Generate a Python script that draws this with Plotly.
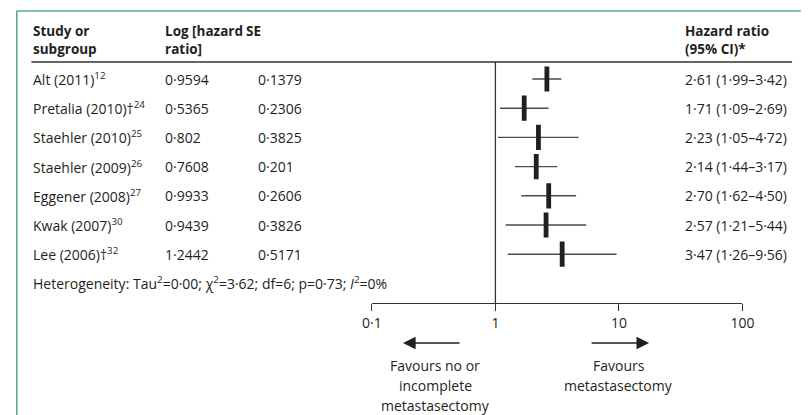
import plotly.graph_objects as go

W, H = 808, 415

studies = ["Alt (2011)", "Pretalia (2010)†", "Staehler (2010)", "Staehler (2009)",
           "Eggener (2008)", "Kwak (2007)", "Lee (2006)†"]
refs = ["12", "24", "25", "26", "27", "30", "32"]
log_hr = ["0·9594", "0·5365", "0·802", "0·7608", "0·9933", "0·9439", "1·2442"]
se = ["0·1379", "0·2306", "0·3825", "0·201", "0·2606", "0·3826", "0·5171"]
hr = [2.61, 1.71, 2.23, 2.14, 2.70, 2.57, 3.47]
lo = [1.99, 1.09, 1.05, 1.44, 1.62, 1.21, 1.26]
hi = [3.42, 2.69, 4.72, 3.17, 4.50, 5.44, 9.56]
tick_vals = [0.1, 1, 10, 100]
tick_text = ["0·1", "1", "10", "100"]
heterogeneity = "Heterogeneity: Tau<sup>2</sup>=0·00; χ<sup>2</sup>=3·62; df=6; p=0·73; <i>I</i><sup>2</sup>=0%"

FONT = "Open Sans"
FS = 14
FS_HEAD = 13.5
TXT = "#231f20"
GREEN = "#5aae84"
LINE = "#333333"

def px(x):
    return x / W

def py(y):
    return 1 - y / H

def fmt(v):
    return f"{v:.2f}".replace(".", "·")

rows = list(range(len(studies)))
ROW0, STEP = 79, 29.2
y_top = -ROW0 / STEP
y_bot = (H - ROW0) / STEP

fig = go.Figure()
fig.add_trace(go.Scatter(
    x=hr, y=rows, mode="markers",
    marker=dict(symbol="line-ns", size=18, line=dict(width=4.8, color=TXT)),
    error_x=dict(type="data", symmetric=False,
                 array=[h - m for h, m in zip(hi, hr)],
                 arrayminus=[m - l for m, l in zip(hr, lo)],
                 width=0, thickness=1.4, color="#4a4a4a"),
    hoverinfo="skip", showlegend=False,
))

ann = []
def text(x, y, s, bold=False, yref="paper", xanchor="left", size=FS):
    ann.append(dict(x=x, y=y, xref="paper", yref=yref, text=(f"<b>{s}</b>" if bold else s),
                    showarrow=False, xanchor=xanchor, yanchor="middle",
                    font=dict(family=FONT, size=size, color=TXT)))

# headers
text(px(22), py(31), "Study or", bold=True, size=FS_HEAD)
text(px(22), py(49), "subgroup", bold=True, size=FS_HEAD)
text(px(157), py(31), "Log [hazard", bold=True, size=FS_HEAD)
text(px(157), py(49), "ratio]", bold=True, size=FS_HEAD)
text(px(241), py(31), "SE", bold=True, size=FS_HEAD)
text(px(692), py(31), "Hazard ratio", bold=True, size=FS_HEAD)
text(px(692), py(49), "(95% CI)*", bold=True, size=FS_HEAD)

for i in rows:
    text(px(22), i, f"{studies[i]}<sup>{refs[i]}</sup>", yref="y")
    text(px(157), i, log_hr[i], yref="y")
    text(px(253), i, se[i], yref="y")
    text(px(692), i, f"{fmt(hr[i])} ({fmt(lo[i])}–{fmt(hi[i])})", yref="y")

text(px(22), len(studies), heterogeneity, yref="y")

# favours labels
for j, s in enumerate(["Favours no or", "incomplete", "metastasectomy"]):
    text(px(437), py(365 + 20 * j), s, xanchor="center")
for j, s in enumerate(["Favours", "metastasectomy"]):
    text(px(626), py(365 + 20 * j), s, xanchor="center")

# arrows
ARROW_Y = py(343)
ann.append(dict(x=px(404), y=ARROW_Y, ax=58, ay=0, xref="paper", yref="paper",
                text="", showarrow=True, arrowhead=2,
                arrowsize=1.8, arrowwidth=1.4, arrowcolor=TXT))
ann.append(dict(x=px(657), y=ARROW_Y, ax=-59, ay=0, xref="paper", yref="paper",
                text="", showarrow=True, arrowhead=2,
                arrowsize=1.8, arrowwidth=1.4, arrowcolor=TXT))

shapes = [
    # green frame
    dict(type="line", xref="paper", yref="paper", x0=px(7), x1=px(7), y0=py(H + 5), y1=py(11),
         line=dict(color=GREEN, width=1.6)),
    dict(type="line", xref="paper", yref="paper", x0=px(7), x1=px(W + 5), y0=py(11), y1=py(11),
         line=dict(color=GREEN, width=1.6)),
    # header rule
    dict(type="line", xref="paper", yref="paper", x0=px(22), x1=px(804), y0=py(62), y1=py(62),
         line=dict(color=LINE, width=1.3)),
    # null line
    dict(type="line", xref="x", yref="paper", x0=1, x1=1, y0=py(62), y1=py(303),
         line=dict(color=LINE, width=1.3)),
]

fig.update_layout(
    width=W, height=H, margin=dict(l=0, r=0, t=0, b=0),
    paper_bgcolor="white", plot_bgcolor="white",
    annotations=ann, shapes=shapes, showlegend=False,
    xaxis=dict(type="log", range=[-1, 2], domain=[px(372), px(753)],
               anchor="free", position=py(303),
               showline=True, linecolor=LINE, linewidth=1.3,
               ticks="outside", ticklen=7, tickwidth=1.3, tickcolor=LINE,
               tickvals=tick_vals, ticktext=tick_text,
               tickfont=dict(family=FONT, size=FS, color=TXT),
               showgrid=False, zeroline=False),
    yaxis=dict(range=[y_bot, y_top], domain=[0, 1], visible=False,
               showgrid=False, zeroline=False),
)

fig.write_html(
    "out.html",
    config={"displayModeBar": False},
    post_script="document.body.style.margin='0';document.body.style.overflow='hidden';",
)
